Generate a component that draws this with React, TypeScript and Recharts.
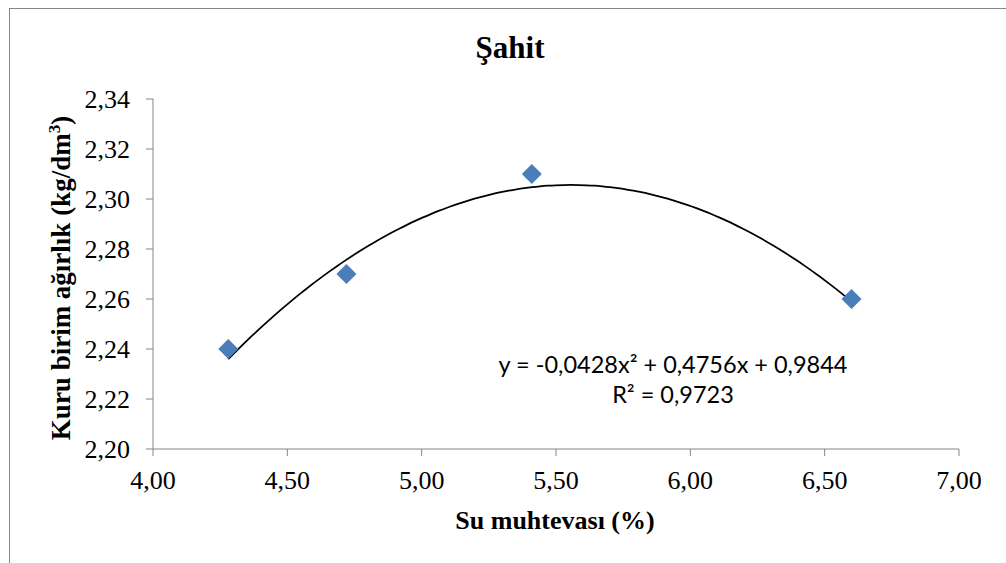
import {
  ComposedChart,
  Scatter,
  Line,
  XAxis,
  YAxis,
} from "recharts";

// measured points
const waterContent = [4.28, 4.72, 5.41, 6.6];
const dryDensity = [2.24, 2.27, 2.31, 2.26];

// polynomial trendline: a*x^2 + b*x + c
const trendCoefficients = [-0.0428, 0.4756, 0.9844];
const trendLabel = "y = -0,0428x² + 0,4756x + 0,9844";
const r2Label = "R² = 0,9723";

const xTicks = [4, 4.5, 5, 5.5, 6, 6.5, 7];
const yTicks = [2.2, 2.22, 2.24, 2.26, 2.28, 2.3, 2.32, 2.34];

const points = waterContent.map((x, i) => ({ x, y: dryDensity[i] }));

const xMin = Math.min(...waterContent);
const xMax = Math.max(...waterContent);
const trend = Array.from({ length: 81 }, (_, i) => {
  const x = xMin + ((xMax - xMin) * i) / 80;
  const [a, b, c] = trendCoefficients;
  return { x, y: a * x * x + b * x + c };
});

const fmt = (v: number) => v.toFixed(2).replace(".", ",");

const SERIF = "'Liberation Serif', 'Times New Roman', serif";
const SANS = "Lato, 'Open Sans', sans-serif";
const AXIS = "#868686";

const tickStyle = { fontFamily: SERIF, fontSize: 26, fill: "#000" };

function Diamond(props: any) {
  const { cx, cy } = props;
  if (cx == null || cy == null) return null;
  const r = 10;
  return (
    <polygon
      points={`${cx},${cy - r} ${cx + r},${cy} ${cx},${cy + r} ${cx - r},${cy}`}
      fill="#4A7EBB"
    />
  );
}

const renderXTick = (props: any) => (
  <text x={props.x} y={props.y + 18} textAnchor="middle" style={tickStyle}>
    {fmt(props.payload.value)}
  </text>
);

const renderYTick = (props: any) => (
  <text x={props.x} y={props.y + 8.5} textAnchor="end" style={tickStyle}>
    {fmt(props.payload.value)}
  </text>
);

export default function App() {
  return (
    <div
      style={{
        position: "absolute",
        left: 0,
        top: 0,
        width: 1006,
        height: 563,
        overflow: "hidden",
        background: "#fff",
        fontFamily: SERIF,
      }}
    >
      <div
        style={{
          position: "absolute",
          left: 9,
          top: 8,
          width: 1100,
          height: 700,
          border: `1px solid ${AXIS}`,
        }}
      />
      <ComposedChart
        width={1006}
        height={563}
        margin={{ top: 99, right: 47, bottom: 0, left: 0 }}
        style={{ position: "absolute", left: 0, top: 0 }}
      >
        <XAxis
          dataKey="x"
          type="number"
          domain={[4, 7]}
          ticks={xTicks}
          height={114}
          stroke={AXIS}
          tickSize={7}
          tickMargin={15}
          tick={renderXTick}
          allowDataOverflow
        />
        <YAxis
          dataKey="y"
          type="number"
          domain={[2.2, 2.34]}
          ticks={yTicks}
          width={153}
          stroke={AXIS}
          tickSize={7}
          tickMargin={16}
          tick={renderYTick}
          allowDataOverflow
        />
        <Line
          data={trend}
          dataKey="y"
          type="monotone"
          stroke="#000"
          strokeWidth={1.75}
          dot={false}
          activeDot={false}
          isAnimationActive={false}
        />
        <Scatter
          data={points}
          dataKey="y"
          shape={<Diamond />}
          isAnimationActive={false}
        />
        <text
          x={510}
          y={58}
          textAnchor="middle"
          fontFamily={SERIF}
          fontWeight="bold"
          fontSize={31}
          fill="#000"
        >
          Şahit
        </text>
        <text
          x={555}
          y={529}
          textAnchor="middle"
          fontFamily={SERIF}
          fontWeight="bold"
          fontSize={26}
          fill="#000"
        >
          Su muhtevası (%)
        </text>
        <text
          transform="translate(70 278) rotate(-90)"
          textAnchor="middle"
          fontFamily={SERIF}
          fontWeight="bold"
          fontSize={27}
          fill="#000"
        >
          Kuru birim ağırlık (kg/dm
          <tspan fontSize={17} dy={-10}>
            3
          </tspan>
          <tspan dy={10}>)</tspan>
        </text>
        <text
          x={673}
          y={373}
          textAnchor="middle"
          fontFamily={SANS}
          fontSize={23.5}
          fill="#000"
        >
          {trendLabel}
        </text>
        <text
          x={673}
          y={403}
          textAnchor="middle"
          fontFamily={SANS}
          fontSize={23.5}
          fill="#000"
        >
          {r2Label}
        </text>
      </ComposedChart>
    </div>
  );
}
